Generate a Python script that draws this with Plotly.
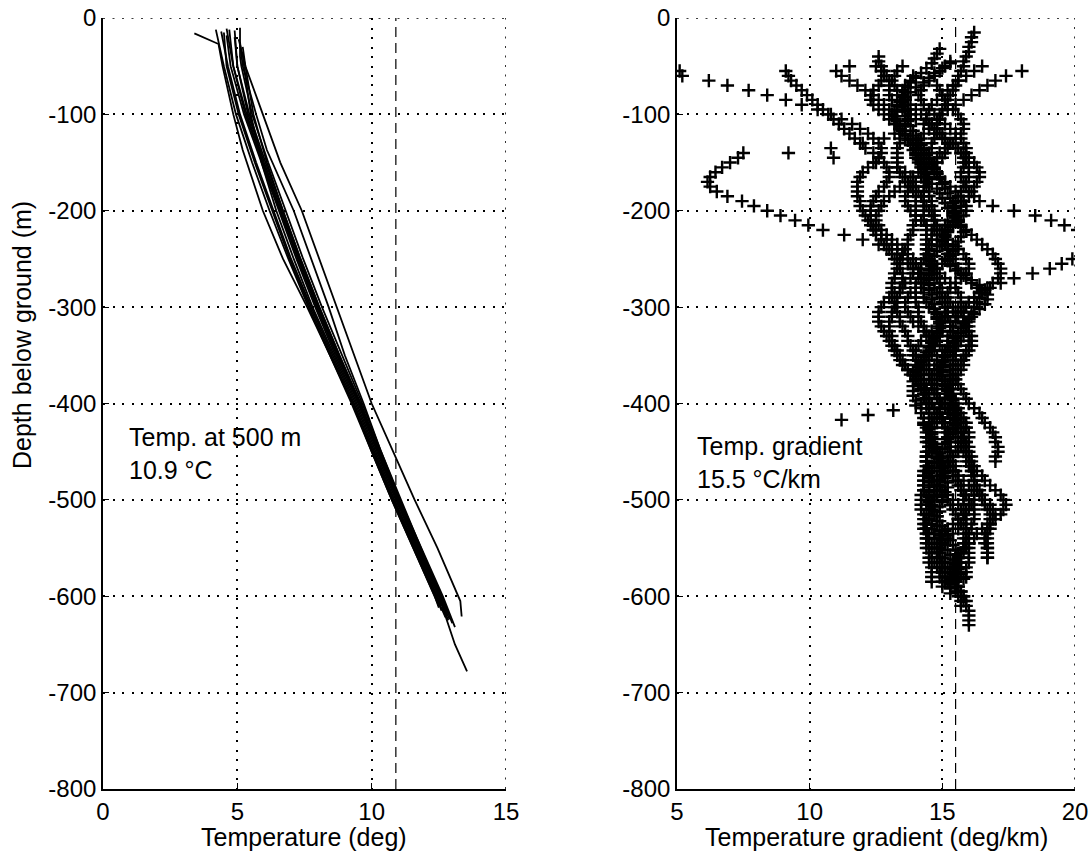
import plotly.graph_objects as go

FONT = "Liberation Sans, Arial, Helvetica, sans-serif"

# ---------------- Left panel: temperature logs (depth m, temperature degC) ----------------
t01_d = [-16, -22, -27, -50, -100, -137, -200, -250, -300, -350, -400, -450, -500, -550, -600, -612]
t01_t = [3.4, 3.9, 4.3, 4.45, 4.85, 5.2, 5.95, 6.7, 7.6, 8.45, 9.25, 10.0, 10.75, 11.55, 12.35, 12.5]
t02_d = [-14, -30, -50, -100, -150, -200, -250, -300, -350, -400, -450, -500, -550, -600, -622]
t02_t = [4.4, 4.5, 4.65, 5.1, 5.7, 6.35, 7.0, 7.75, 8.55, 9.35, 10.05, 10.8, 11.6, 12.4, 12.75]
t03_d = [-12, -25, -50, -100, -150, -200, -250, -300, -350, -400, -450, -500, -550, -600, -625]
t03_t = [4.7, 4.75, 4.85, 5.3, 5.95, 6.6, 7.25, 7.95, 8.7, 9.5, 10.2, 10.95, 11.7, 12.5, 12.85]
t04_d = [-10, -40, -50, -100, -150, -200, -250, -300, -350, -400, -450, -500, -550, -600, -618]
t04_t = [5.1, 5.1, 5.15, 5.55, 6.15, 6.8, 7.45, 8.15, 8.9, 9.65, 10.35, 11.05, 11.8, 12.6, 12.85]
t05_d = [-18, -50, -100, -150, -200, -250, -300, -350, -400, -450, -500, -550, -600, -650, -678]
t05_t = [4.6, 4.75, 5.25, 5.9, 6.55, 7.2, 7.9, 8.65, 9.45, 10.15, 10.9, 11.7, 12.5, 13.1, 13.55]
t06_d = [-20, -50, -100, -150, -200, -250, -300, -350, -400, -450, -500, -550, -600, -632]
t06_t = [4.9, 5.0, 5.45, 6.05, 6.7, 7.35, 8.05, 8.8, 9.6, 10.3, 11.05, 11.85, 12.65, 13.1]
t07_d = [-22, -50, -100, -150, -200, -250, -300, -350, -400, -450, -500, -550, -600, -605, -621]
t07_t = [5.05, 5.3, 5.95, 6.6, 7.4, 8.05, 8.7, 9.35, 10.0, 10.8, 11.6, 12.45, 13.25, 13.3, 13.35]
t08_d = [-25, -50, -100, -137, -200, -250, -300, -350, -400, -450, -500, -550, -600, -615]
t08_t = [5.1, 5.2, 5.7, 6.1, 7.1, 7.75, 8.4, 9.0, 9.7, 10.35, 11.1, 11.85, 12.6, 12.8]
t09_d = [-15, -50, -100, -150, -200, -250, -300, -350, -400, -450, -500, -550, -600, -610]
t09_t = [4.5, 4.6, 5.05, 5.65, 6.3, 6.95, 7.7, 8.5, 9.3, 10.0, 10.75, 11.55, 12.35, 12.5]
t10_d = [-13, -50, -100, -150, -200, -250, -300, -350, -400, -450, -500, -550, -600, -620]
t10_t = [4.9, 5.0, 5.4, 6.0, 6.65, 7.3, 8.0, 8.75, 9.55, 10.25, 11.0, 11.75, 12.55, 12.8]
t11_d = [-30, -50, -100, -150, -200, -250, -300, -350, -400, -450, -500, -550, -600, -624]
t11_t = [5.2, 5.3, 5.6, 6.1, 6.7, 7.35, 8.05, 8.8, 9.55, 10.25, 10.95, 11.7, 12.5, 12.9]
t12_d = [-12, -50, -100, -150, -200, -250, -300, -350, -400, -450, -500, -550, -600, -615]
t12_t = [4.2, 4.5, 4.95, 5.55, 6.2, 6.9, 7.65, 8.45, 9.3, 10.05, 10.8, 11.6, 12.4, 12.6]
t13_d = [-11, -50, -100, -150, -200, -250, -300, -350, -400, -450, -500, -550, -600, -628]
t13_t = [4.6, 4.85, 5.35, 5.95, 6.6, 7.3, 8.0, 8.75, 9.55, 10.3, 11.05, 11.8, 12.6, 13.0]
t14_d = [-35, -50, -100, -150, -200, -250, -300, -350, -400, -450, -500, -550, -600, -610]
t14_t = [5.2, 5.25, 5.5, 5.9, 6.45, 7.1, 7.8, 8.6, 9.4, 10.1, 10.85, 11.65, 12.45, 12.6]

TEMP_LOGS = [(t01_d, t01_t), (t02_d, t02_t), (t03_d, t03_t), (t04_d, t04_t), (t05_d, t05_t),
             (t06_d, t06_t), (t07_d, t07_t), (t08_d, t08_t), (t09_d, t09_t), (t10_d, t10_t),
             (t11_d, t11_t), (t12_d, t12_t), (t13_d, t13_t), (t14_d, t14_t)]

TEMP_AT_500 = 10.9     # degC, dashed reference line
MEAN_GRADIENT = 15.5   # degC/km, dashed reference line

# ---------------- Right panel: gradient logs, one value every 5 m from the top depth ----------------
STEP_M = 5

g01_top = -15
g01 = [16.2, 16.1, 16.1, 16.0, 16.0, 15.9, 15.8, 15.8, 15.7, 15.6,
       15.6, 15.5, 15.4, 15.3, 15.2, 15.1, 15.0, 14.9, 14.9, 14.8,
       14.8, 14.7, 14.7, 14.6, 14.6, 14.5, 14.5, 14.5, 14.4, 14.4,
       14.4, 14.4, 14.3, 14.3, 14.3, 14.3, 14.3, 14.3, 14.3, 14.3,
       14.4, 14.4, 14.4, 14.4, 14.4, 14.5, 14.5, 14.5, 14.6, 14.6,
       14.7, 14.8, 14.9, 14.9, 15.0, 15.1, 15.1, 15.2, 15.2, 15.2,
       15.3, 15.3, 15.3, 15.2, 15.2, 15.2, 15.1, 15.1, 15.0, 15.0,
       14.9, 14.9, 14.8, 14.8, 14.8, 14.8, 14.9, 14.9, 14.9, 14.9,
       15.0, 15.0, 15.1, 15.1, 15.2, 15.2, 15.3, 15.3, 15.4, 15.4,
       15.5, 15.5, 15.6, 15.6, 15.7, 15.7, 15.8, 15.8, 15.8, 15.9,
       15.9, 15.9, 15.9, 15.9, 15.9, 15.8, 15.8, 15.8, 15.7, 15.7,
       15.7, 15.6, 15.6, 15.6, 15.5, 15.5, 15.5]

g02_top = -55
g02 = [5.1, 5.2, 6.2, 6.9, 7.7, 8.4, 9.1, 9.7, 10.3, 10.8,
       11.2, 11.6, 11.9, 12.2, 12.4, 12.6, 12.7, 12.7, 12.6, 12.4,
       12.2, 12.0, 11.9, 11.8, 11.8, 11.8, 11.8, 11.9, 11.9, 12.0,
       12.1, 12.2, 12.3, 12.5, 12.7, 12.9, 13.1, 13.3, 13.5, 13.7,
       13.8, 13.9, 13.9, 13.8, 13.6, 13.4, 13.2, 13.0, 12.8, 12.7,
       12.6, 12.6, 12.6, 12.7, 12.8, 12.9, 13.0, 13.1, 13.2, 13.3,
       13.4, 13.5, 13.7, 13.9, 14.0, 14.1, 14.2, 14.3, 14.3, 14.4,
       14.4, 14.5, 14.5, 14.5, 14.6, 14.6, 14.6, 14.5, 14.5, 14.5,
       14.4, 14.4, 14.4, 14.3, 14.3, 14.3, 14.3, 14.3, 14.2, 14.2,
       14.2, 14.2, 14.3, 14.3, 14.3, 14.3, 14.4, 14.4, 14.4, 14.4,
       14.5, 14.5, 14.5, 14.6, 14.6, 14.6, 14.6]

g03_top = -55
g03 = [9.1, 9.2, 9.3, 9.5, 9.7, 9.9, 10.1, 10.3, 10.5, 10.7,
       10.9, 11.1, 11.3, 11.5, 11.7, 11.9, 12.1, 12.4, 12.6, 12.8,
       12.9, 13.0, 13.0, 12.9, 12.8, 12.6, 12.5, 12.4, 12.3, 12.3,
       12.3, 12.3, 12.4, 12.4, 12.5, 12.7, 12.8, 12.9, 13.1, 13.2,
       13.3, 13.4, 13.5, 13.5, 13.5, 13.5, 13.4, 13.3, 13.3, 13.2,
       13.1, 13.1, 13.0, 13.0, 13.0, 13.1, 13.1, 13.2, 13.3, 13.4,
       13.5, 13.6, 13.7, 13.8, 14.0, 14.1, 14.2, 14.3, 14.4, 14.5,
       14.5, 14.5, 14.6, 14.6, 14.6, 14.6, 14.6, 14.5, 14.5, 14.5,
       14.4, 14.4, 14.4, 14.4, 14.3, 14.3, 14.3, 14.3, 14.4, 14.4,
       14.4, 14.5, 14.5, 14.5, 14.6, 14.6, 14.7, 14.7, 14.8, 14.8,
       14.9, 14.9, 15.0, 15.0, 15.1, 15.1, 15.1]

g04_top = -55
g04 = [18.0, 17.4, 17.0, 16.7, 16.4, 16.1, 15.8, 15.5, 15.2, 15.0,
       14.8, 14.6, 14.5, 14.3, 14.2, 14.1, 14.0, 14.0, 14.0, 14.1,
       14.2, 14.2, 14.3, 14.4, 14.4, 14.5, 14.5, 14.6, 14.6, 14.7,
       14.7, 14.7, 14.7, 14.7, 14.6, 14.6, 14.5, 14.4, 14.4, 14.3,
       14.2, 14.2, 14.1, 14.1, 14.0, 14.0, 14.0, 14.0, 14.0, 14.1,
       14.1, 14.1, 14.2, 14.3, 14.4, 14.5, 14.6, 14.7, 14.7, 14.8,
       14.8, 14.7, 14.7, 14.6, 14.5, 14.4, 14.4, 14.3, 14.3, 14.2,
       14.2, 14.2, 14.3, 14.3, 14.4, 14.4, 14.5, 14.6, 14.7, 14.8,
       14.9, 14.9, 15.0, 15.0, 15.0, 14.9, 14.9, 14.8, 14.8, 14.7,
       14.6, 14.6, 14.5, 14.5, 14.4, 14.4, 14.4, 14.4, 14.5, 14.5,
       14.6, 14.6, 14.7, 14.8, 14.9, 14.9, 15.0, 15.0]

g05_top = -50
g05 = [11.5, 11.0, 11.2, 11.5, 11.8, 12.1, 12.4, 12.6, 12.8, 13.0,
       13.1, 13.2, 13.3, 13.4, 13.4, 13.4, 13.4, 13.3, 13.3, 13.3,
       13.3, 13.3, 13.4, 13.5, 13.6, 13.8, 13.9, 14.0, 14.0, 14.0,
       14.0, 14.0, 14.0, 13.9, 13.9, 13.8, 13.7, 13.7, 13.6, 13.5,
       13.4, 13.4, 13.3, 13.2, 13.2, 13.1, 13.1, 13.1, 13.1, 13.2,
       13.2, 13.3, 13.4, 13.4, 13.5, 13.6, 13.7, 13.7, 13.8, 13.9,
       13.9, 14.0, 14.0, 14.1, 14.1, 14.2, 14.2, 14.3, 14.4, 14.5,
       14.6, 14.7, 14.8, 14.9, 15.0, 15.1, 15.2, 15.2, 15.3, 15.3,
       15.3, 15.2, 15.2, 15.1, 15.0, 15.0, 14.9, 14.8, 14.7, 14.7,
       14.6, 14.5, 14.5, 14.4, 14.4, 14.4, 14.4, 14.5, 14.5, 14.6,
       14.7, 14.8, 14.9, 15.0, 15.1, 15.3, 15.4, 15.5, 15.6, 15.7,
       15.8, 15.8]

g06_top = -45
g06 = [15.3, 15.1, 14.9, 14.7, 14.5, 14.3, 14.2, 14.1, 14.2, 14.3,
       14.5, 14.7, 14.9, 15.1, 15.3, 15.5, 15.7, 15.8, 15.9, 15.9,
       15.9, 15.8, 15.8, 15.7, 15.7, 15.8, 15.9, 16.0, 16.2, 16.4,
       16.9, 17.7, 18.5, 19.1, 19.6, 20.1, 20.6, 21.0, 21.0, 20.6,
       20.3, 19.9, 19.5, 19.05, 18.4, 17.7, 17.2, 16.8, 16.5, 16.2,
       16.0, 15.9, 15.8, 15.8, 15.8, 15.9, 15.9, 16.0, 16.0, 16.0,
       15.9, 15.8, 15.7, 15.6, 15.5, 15.4, 15.3, 15.3, 15.3, 15.4,
       15.4, 15.5, 15.6, 15.7, 15.8, 15.9, 15.9, 15.8, 15.8, 15.7,
       15.6, 15.5, 15.4, 15.3, 15.3, 15.4, 15.4, 15.5, 15.6, 15.8,
       15.9, 16.0, 16.1, 16.2, 16.2, 16.2, 16.1, 16.1, 16.0, 16.0,
       15.9, 15.8, 15.7, 15.6, 15.5, 15.5, 15.4, 15.4, 15.5, 15.6,
       15.7, 15.8, 15.9, 15.9, 16.0, 16.0, 16.0, 16.0]

g07_top = -140
g07 = [7.5, 7.3, 7.0, 6.7, 6.45, 6.25, 6.15, 6.25, 6.5, 6.9,
       7.45, 7.9, 8.4, 8.9, 9.45, 9.95, 10.5, 11.3, 12.0, 12.6,
       13.0, 13.3, 13.5, 13.7, 13.9, 14.1, 14.3, 14.5, 14.7, 14.8,
       14.9, 15.0, 15.1, 15.1, 15.1, 15.0, 15.0, 14.9, 14.8, 14.7,
       14.6, 14.5, 14.4, 14.3, 14.3, 14.3, 14.3, 14.3, 14.3, 14.4,
       14.5, 14.5, 14.6, 14.7, 14.8, 15.0, 15.1, 15.2, 15.4, 15.5,
       15.6, 15.7, 15.8, 15.9, 15.9, 16.0, 16.1, 16.1, 16.2, 16.2,
       16.3, 16.4, 16.5, 16.6, 16.7, 16.8, 16.8, 16.8, 16.8, 16.7,
       16.7, 16.7, 16.7, 16.7, 16.7]

g08_top = -40
g08 = [12.6, 12.6, 12.7, 12.8, 12.9, 13.0, 13.2, 13.3, 13.5, 13.6,
       13.7, 13.7, 13.8, 13.7, 13.6, 13.4, 13.2, 12.8, 12.0, 10.8,
       9.2, 10.9, 12.5, 13.3, 13.6, 13.8, 13.9, 14.0, 14.1, 14.2,
       14.3, 14.4, 14.5, 14.6, 14.7, 14.8, 14.9, 15.0, 15.1, 15.2,
       15.2, 15.3, 15.4, 15.5, 15.6, 15.7, 15.9, 16.1, 16.3, 16.4,
       16.4, 16.3, 16.2, 16.1, 16.1, 16.0, 16.0, 15.9, 15.8, 15.7,
       15.6, 15.5, 15.4, 15.4, 15.3, 15.3, 15.4, 15.5, 15.6, 15.7,
       15.8, 15.9, 16.0, 16.2, 16.4, 16.5, 16.6, 16.8, 16.9, 17.0,
       17.0, 17.1, 17.1, 17.0, 17.0]

g09_top = -32
g09 = [14.9, 14.8, 14.7, 14.6, 14.4, 14.2, 14.0, 13.8, 13.7, 13.6,
       13.5, 13.5, 13.5, 13.6, 13.6, 13.7, 13.8, 13.9, 14.0, 14.1,
       14.2, 14.3, 14.4, 14.5, 14.6, 14.7, 14.8, 14.9, 15.0, 15.1,
       15.2, 15.3, 15.4, 15.5, 15.5, 15.5, 15.4, 15.3, 15.2, 15.1,
       15.0, 14.9, 14.8, 14.7, 14.6, 14.6, 14.5, 14.5, 14.5, 14.5,
       14.5, 14.6, 14.6, 14.7, 14.7, 14.8, 14.8, 14.9, 14.9, 14.8,
       14.7, 14.6, 14.5, 14.4, 14.3, 14.2, 14.1, 14.0, 14.0, 13.9,
       13.9, 13.9, 13.9, 14.0, 14.0, 13.15, 12.2, 11.2, 14.3, 14.5,
       14.6, 14.7, 14.7, 14.8, 14.8, 14.9, 14.9, 15.0, 15.1, 15.1,
       15.2, 15.2, 15.1, 15.0, 15.0, 14.9, 14.9, 14.8, 14.8, 14.8,
       14.9, 14.9, 15.0, 15.1, 15.2, 15.3, 15.4, 15.5, 15.6, 15.7,
       15.8]

g10_top = -47
g10 = [15.3, 15.0, 14.7, 14.5, 14.3, 14.0, 13.8, 13.6, 13.4, 13.3,
       13.2, 13.2, 13.3, 13.4, 13.5, 13.6, 13.7, 13.8, 13.9, 14.0,
       14.1, 14.2, 14.3, 14.4, 14.5, 14.6, 14.8, 14.9, 15.0, 15.1,
       15.2, 15.4, 15.5, 15.6, 15.7, 15.8, 15.7, 15.6, 15.5, 15.4,
       15.3, 15.2, 15.3, 15.5, 15.8, 16.1, 16.4, 16.6, 16.7, 16.7,
       16.6, 16.4, 16.2, 16.0, 15.8, 15.7, 15.6, 15.5, 15.4, 15.3,
       15.2, 15.1, 15.0, 15.0, 15.0, 15.0, 15.1, 15.1, 15.2, 15.3,
       15.4, 15.4, 15.5, 15.5, 15.5, 15.5, 15.4, 15.3, 15.2, 15.1,
       15.0, 14.9, 14.8, 14.7, 14.6, 14.5, 14.5, 14.5, 14.5, 14.5,
       14.5, 14.5, 14.6, 14.7, 14.8, 14.9, 15.0, 15.1, 15.2, 15.3,
       15.4, 15.5, 15.5, 15.5, 15.5, 15.4, 15.4, 15.3, 15.3, 15.3,
       15.3]

g11_top = -50
g11 = [13.5, 13.3, 13.2, 13.1, 13.0, 13.0, 13.0, 13.1, 13.3, 13.5,
       13.8, 14.0, 14.3, 14.5, 14.8, 15.0, 15.3, 15.5, 15.7, 15.8,
       15.9, 16.0, 16.0, 16.0, 15.9, 15.8, 15.7, 15.6, 15.5, 15.4,
       15.4, 15.5, 15.6, 15.7, 15.9, 16.1, 16.3, 16.5, 16.7, 16.9,
       17.0, 17.1, 17.2, 17.2, 17.1, 16.9, 16.7, 16.4, 16.2, 16.0,
       15.8, 15.7, 15.5, 15.5, 15.4, 15.4, 15.4, 15.5, 15.5, 15.5,
       15.5, 15.5, 15.4, 15.4, 15.3, 15.3, 15.2, 15.2, 15.2, 15.3,
       15.3, 15.4, 15.5, 15.5, 15.6, 15.7, 15.8, 15.8, 15.9, 16.0,
       16.0, 16.1, 16.1, 16.2, 16.3, 16.5, 16.6, 16.8, 17.0, 17.2,
       17.3, 17.4, 17.3, 17.2, 17.0, 16.8, 16.7, 16.6, 16.6, 16.6,
       16.7, 16.7, 16.7]

g12_top = -50
g12 = [12.5, 12.7, 12.8, 12.7, 12.6, 12.4, 12.3, 12.3, 12.4, 12.6,
       12.8, 13.0, 13.2, 13.4, 13.6, 13.8, 13.9, 14.1, 14.2, 14.3,
       14.3, 14.2, 14.1, 13.9, 13.7, 13.4, 13.2, 13.0, 12.8, 12.7,
       12.6, 12.5, 12.5, 12.6, 12.7, 12.9, 13.1, 13.3, 13.5, 13.7,
       13.9, 14.0, 14.1, 14.2, 14.2, 14.2, 14.2, 14.3, 14.3, 14.4,
       14.5, 14.7, 14.8, 14.9, 15.0, 15.0, 14.9, 14.8, 14.7, 14.6,
       14.6, 14.5, 14.5, 14.5, 14.5, 14.6, 14.6, 14.7, 14.8, 14.9,
       15.0, 15.1, 15.2, 15.3, 15.4, 15.5, 15.6, 15.7, 15.8, 15.9,
       15.9, 16.0, 16.0, 16.1, 16.1, 16.2, 16.2, 16.3, 16.4, 16.5,
       16.6, 16.8, 16.9, 17.0, 16.9, 16.7, 16.5, 16.3, 16.2, 16.0,
       15.9, 15.8, 15.7, 15.6, 15.6, 15.5, 15.5, 15.5, 15.5, 15.6,
       15.6, 15.7, 15.7]

g13_top = -50
g13 = [16.5, 16.2, 15.9, 15.6, 15.4, 15.2, 15.0, 14.8, 14.6, 14.5,
       14.4, 14.4, 14.5, 14.7, 14.9, 15.1, 15.4, 15.6, 15.8, 16.0,
       16.2, 16.3, 16.4, 16.4, 16.3, 16.2, 16.1, 16.0, 15.8, 15.7,
       15.5, 15.4, 15.2, 15.1, 15.0, 15.1, 15.2, 15.4, 15.6, 15.8,
       15.9, 16.0, 16.0, 15.9, 15.7, 15.5, 15.3, 15.2, 15.2, 15.3,
       15.4, 15.5, 15.6, 15.8, 15.9, 16.0, 16.1, 16.1, 16.1, 16.0,
       15.9, 15.8, 15.8, 15.7, 15.6, 15.5, 15.4, 15.3, 15.2, 15.1,
       15.0, 14.9, 14.8, 14.7, 14.7, 14.6, 14.6, 14.5, 14.5, 14.5,
       14.4, 14.4, 14.4, 14.5, 14.5, 14.6, 14.6, 14.7, 14.9, 15.0,
       15.2, 15.3, 15.4, 15.5, 15.6, 15.7, 15.8, 15.9, 15.9, 16.0,
       16.0, 16.0, 16.0, 16.0, 15.9, 15.9, 15.9]

g14_top = -60
g14 = [13.9, 13.8, 13.6, 13.5, 13.5, 13.6, 13.8, 14.0, 14.2, 14.4,
       14.6, 14.8, 15.0, 15.1, 15.2, 15.2, 15.1, 15.0, 14.8, 14.6,
       14.4, 14.2, 14.0, 13.8, 13.7, 13.6, 13.6, 13.7, 13.8, 14.0,
       14.2, 14.4, 14.6, 14.8, 15.0, 15.1, 15.2, 15.2, 15.1, 15.0,
       14.8, 14.6, 14.4, 14.2, 14.0, 13.8, 13.7, 13.6, 13.6, 13.7,
       13.8, 13.9, 14.1, 14.3, 14.5, 14.7, 14.9, 15.0, 15.1, 15.1,
       15.0, 14.9, 14.8, 14.7, 14.6, 14.6, 14.7, 14.8, 15.0, 15.2,
       15.4, 15.6, 15.8, 15.9, 16.0, 16.0, 15.9, 15.8, 15.6, 15.4,
       15.2, 15.0, 14.9, 14.8, 14.8, 14.9, 15.0, 15.2, 15.4, 15.6,
       15.7, 15.8, 15.8, 15.7, 15.6, 15.4, 15.2, 15.0, 14.9, 14.8,
       14.8, 14.8, 14.9, 15.0, 15.1, 15.2]

g15_top = -70
g15 = [14.8, 14.9, 15.0, 15.1, 15.2, 15.4, 15.6, 15.7, 15.8, 15.8,
       15.7, 15.5, 15.3, 15.1, 14.9, 14.8, 14.7, 14.7, 14.8, 14.9,
       15.1, 15.3, 15.5, 15.7, 15.8, 15.9, 15.9, 15.8, 15.6, 15.4,
       15.2, 15.0, 14.8, 14.6, 14.5, 14.4, 14.4, 14.5, 14.7, 14.9,
       15.1, 15.3, 15.5, 15.6, 15.7, 15.7, 15.6, 15.4, 15.2, 15.0,
       14.8, 14.6, 14.4, 14.2, 14.1, 14.0, 14.0, 14.1, 14.2, 14.4,
       14.6, 14.8, 15.0, 15.2, 15.3, 15.4, 15.4, 15.3, 15.2, 15.0,
       14.8, 14.6, 14.5, 14.4, 14.4, 14.5, 14.6, 14.8, 15.0, 15.2,
       15.4, 15.6, 15.8, 16.0, 16.1, 16.2, 16.2, 16.1, 16.0, 15.8,
       15.6, 15.4, 15.2, 15.0, 14.9, 14.8, 14.8, 14.9, 15.0, 15.1,
       15.2, 15.3, 15.3, 15.2]

GRAD_LOGS = [(g01_top, g01), (g02_top, g02), (g03_top, g03), (g04_top, g04), (g05_top, g05),
             (g06_top, g06), (g07_top, g07), (g08_top, g08), (g09_top, g09), (g10_top, g10),
             (g11_top, g11), (g12_top, g12), (g13_top, g13), (g14_top, g14), (g15_top, g15)]

DEPTH_TICKS = [0, -100, -200, -300, -400, -500, -600, -700, -800]
DEPTH_LABELS = ["0", "-100", "-200", "-300", "-400", "-500", "-600", "-700", "-800"]
TEMP_TICKS = [0, 5, 10, 15]
GRAD_TICKS = [5, 10, 15, 20]

# ---------------- figure ----------------
W, H = 1091, 854
fig = go.Figure()

for d, t in TEMP_LOGS:
    fig.add_trace(go.Scatter(x=t, y=d, mode="lines", xaxis="x", yaxis="y",
                             line=dict(color="black", width=1.8), showlegend=False,
                             hoverinfo="skip"))

for top, vals in GRAD_LOGS:
    depth = [top - STEP_M * i for i in range(len(vals))]
    fig.add_trace(go.Scatter(x=vals, y=depth, mode="markers", xaxis="x2", yaxis="y2",
                             marker=dict(symbol="cross-thin", size=9.5, color="black",
                                         line=dict(color="black", width=2.4)),
                             showlegend=False, hoverinfo="skip"))

GRID_DASH = "2px,7.5px"
axis_common = dict(
    showgrid=True, gridcolor="black", gridwidth=1.6, griddash=GRID_DASH,
    zeroline=False, showline=True, linecolor="black", linewidth=1.6,
    ticks="inside", ticklen=6, tickwidth=1.4, tickcolor="black",
    tickfont=dict(family=FONT, size=24, color="black"),
    automargin=False,
)

fig.update_layout(
    width=W, height=H,
    margin=dict(l=0, r=0, t=0, b=0),
    paper_bgcolor="white", plot_bgcolor="white",
    xaxis=dict(domain=[103 / W, 506 / W], range=[0, 15], tickvals=TEMP_TICKS,
               anchor="y", ticklabelstandoff=0, **axis_common),
    yaxis=dict(domain=[1 - 789 / H, 1 - 18 / H], range=[-800, 0], tickvals=DEPTH_TICKS,
               ticktext=DEPTH_LABELS, anchor="x", **axis_common),
    xaxis2=dict(domain=[677 / W, 1075 / W], range=[5, 20], tickvals=GRAD_TICKS,
                anchor="y2", ticklabelstandoff=0, **axis_common),
    yaxis2=dict(domain=[1 - 789 / H, 1 - 18 / H], range=[-800, 0], tickvals=DEPTH_TICKS,
                ticktext=DEPTH_LABELS, anchor="x2", **axis_common),
)

shapes = []
# dotted upper and right frame edges
for xr, yr, x0, x1 in (("x", "y", 0, 15), ("x2", "y2", 5, 20)):
    shapes.append(dict(type="line", xref=xr, yref=yr, x0=x0, x1=x1, y0=0, y1=0,
                       line=dict(color="black", width=1.6, dash=GRID_DASH)))
    shapes.append(dict(type="line", xref=xr, yref=yr, x0=x1, x1=x1, y0=-800, y1=0,
                       line=dict(color="black", width=1.6, dash=GRID_DASH)))
# dashed reference values
shapes.append(dict(type="line", xref="x", yref="y", x0=TEMP_AT_500, x1=TEMP_AT_500,
                   y0=-800, y1=0, line=dict(color="black", width=1.2, dash="10px,6px")))
shapes.append(dict(type="line", xref="x2", yref="y2", x0=MEAN_GRADIENT, x1=MEAN_GRADIENT,
                   y0=-800, y1=0, line=dict(color="black", width=1.2, dash="10px,6px")))
fig.update_layout(shapes=shapes)

txt = dict(family=FONT, size=25, color="black")
annotations = [
    dict(text="Temp. at 500 m<br>10.9 °C", x=127 / W, y=1 - 453 / H, xref="paper", yref="paper",
         xanchor="left", yanchor="middle", align="left", showarrow=False, font=txt),
    dict(text="Temp. gradient<br>15.5 °C/km", x=695 / W, y=1 - 462 / H, xref="paper", yref="paper",
         xanchor="left", yanchor="middle", align="left", showarrow=False, font=txt),
    dict(text="Temperature (deg)", x=304 / W, y=1 - 837 / H, xref="paper", yref="paper",
         xanchor="center", yanchor="middle", showarrow=False, font=txt),
    dict(text="Temperature gradient (deg/km)", x=876 / W, y=1 - 837 / H, xref="paper", yref="paper",
         xanchor="center", yanchor="middle", showarrow=False, font=txt),
    dict(text="Depth below ground (m)", x=22 / W, y=1 - 335 / H, xref="paper", yref="paper",
         xanchor="center", yanchor="middle", textangle=-90, showarrow=False, font=txt),
]
fig.update_layout(annotations=annotations)

fig.write_html("out.html")
